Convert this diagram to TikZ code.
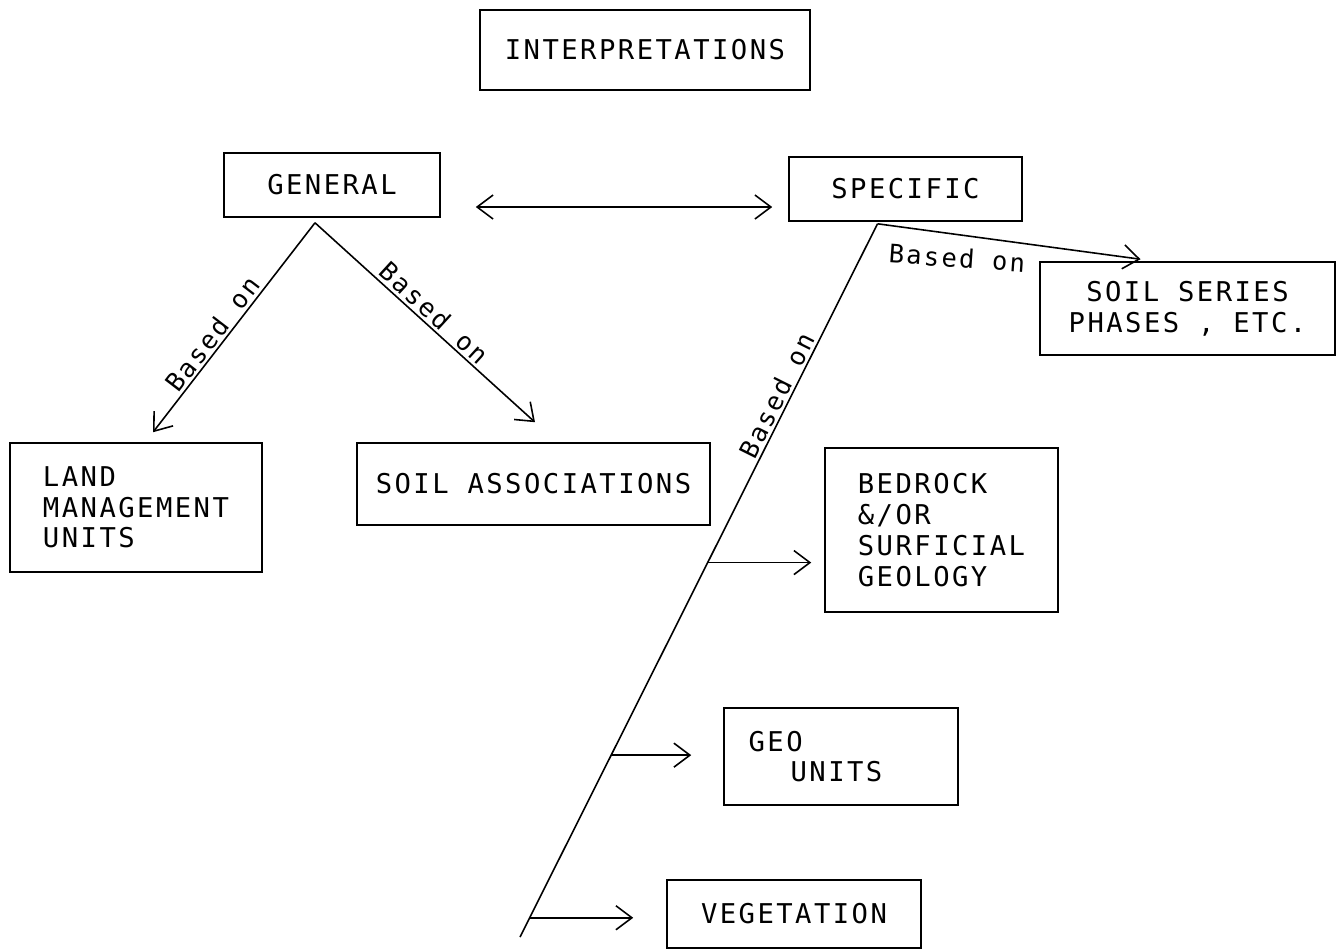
\documentclass[tikz,border=0pt]{standalone}
\usepackage{fontspec}
\newfontfamily\tw[LetterSpace=9]{DejaVu Sans Mono}
\usetikzlibrary{arrows.meta,calc}
\tikzset{barb/.tip={Straight Barb[length=3.2mm,width=4.8mm]}}
\begin{document}
\begin{tikzpicture}[x=0.02cm,y=-0.02cm,
  box/.style={draw,line width=0.9pt,inner sep=0pt,font=\tw\fontsize{15.5}{17.5}\selectfont},
  lbl/.style={font=\tw\fontsize{14.5}{17}\selectfont,inner sep=1.5pt},
  conn/.style={line width=0.9pt},
  arr/.style={conn,-barb},
]
\useasboundingbox (0,0) rectangle (1341,951);

% boxes
\node[box,minimum width=6.6cm,minimum height=1.6cm] (interp) at (645,50) {INTERPRETATIONS};
\node[box,minimum width=4.32cm,minimum height=1.28cm] (general) at (332,185) {GENERAL};
\node[box,minimum width=4.66cm,minimum height=1.28cm] (specific) at (905.5,189) {SPECIFIC};
\node[box,minimum width=5.9cm,minimum height=1.86cm,align=center] (series) at (1187.5,308.5) {SOIL SERIES\\PHASES , ETC.};
\node[box,minimum width=5.04cm,minimum height=2.58cm,align=left] (land) at (136,507.5) {LAND\\MANAGEMENT\\UNITS};
\node[box,minimum width=7.06cm,minimum height=1.64cm] (assoc) at (533.5,484) {SOIL ASSOCIATIONS};
\node[box,minimum width=4.66cm,minimum height=3.28cm,align=left] (bedrock) at (941.5,530) {BEDROCK\\\&/OR\\SURFICIAL\\GEOLOGY};
\node[box,minimum width=4.68cm,minimum height=1.94cm,align=left] (geo) at (841,756.5) {GEO\\\hspace*{0.84cm}UNITS\rule{1.02cm}{0pt}};
\node[box,minimum width=5.08cm,minimum height=1.36cm] (veg) at (794,914) {VEGETATION};

% general <-> specific
\draw[conn,barb-barb] ([shift={(35,22)}]general.east) -- ([shift={(-16,18)}]specific.west);

% general branches
\coordinate (apex) at ([shift={(-17,5)}]general.south);
\draw[arr] (apex) -- ([shift={(17,-10)}]land.north)
  node[lbl,pos=0.57,rotate=52.5,anchor=south] (lblland) {Based on};
\draw[arr] (apex) -- ([shift={(1.5,-20)}]assoc.north)
  node[lbl,pos=0.5,rotate=-42.4,anchor=south] (lblassoc) {Based on};

% specific branches
\coordinate (sp) at ([shift={(-28,2)}]specific.south);
\draw[arr] (sp) -- ([shift={(-47,-2)}]series.north);
\node[lbl,rotate=-4] (lblspec) at (957,258) {Based on};

\coordinate (lineend) at (520,937);
\draw[conn] (sp) -- (lineend)
  node[lbl,pos=0.249,rotate=63.5,anchor=south] (lblline) {Based on}
  coordinate[pos=0.475] (b1)
  coordinate[pos=0.745] (b2)
  coordinate[pos=0.973] (b3);

\draw[arr] (b1) -- ($(bedrock.west |- b1)+(-13,0)$);
\draw[arr] (b2) -- ($(geo.west |- b2)+(-32,0)$);
\draw[arr] (b3) -- ($(veg.west |- b3)+(-33,0)$);
\end{tikzpicture}
\end{document}
